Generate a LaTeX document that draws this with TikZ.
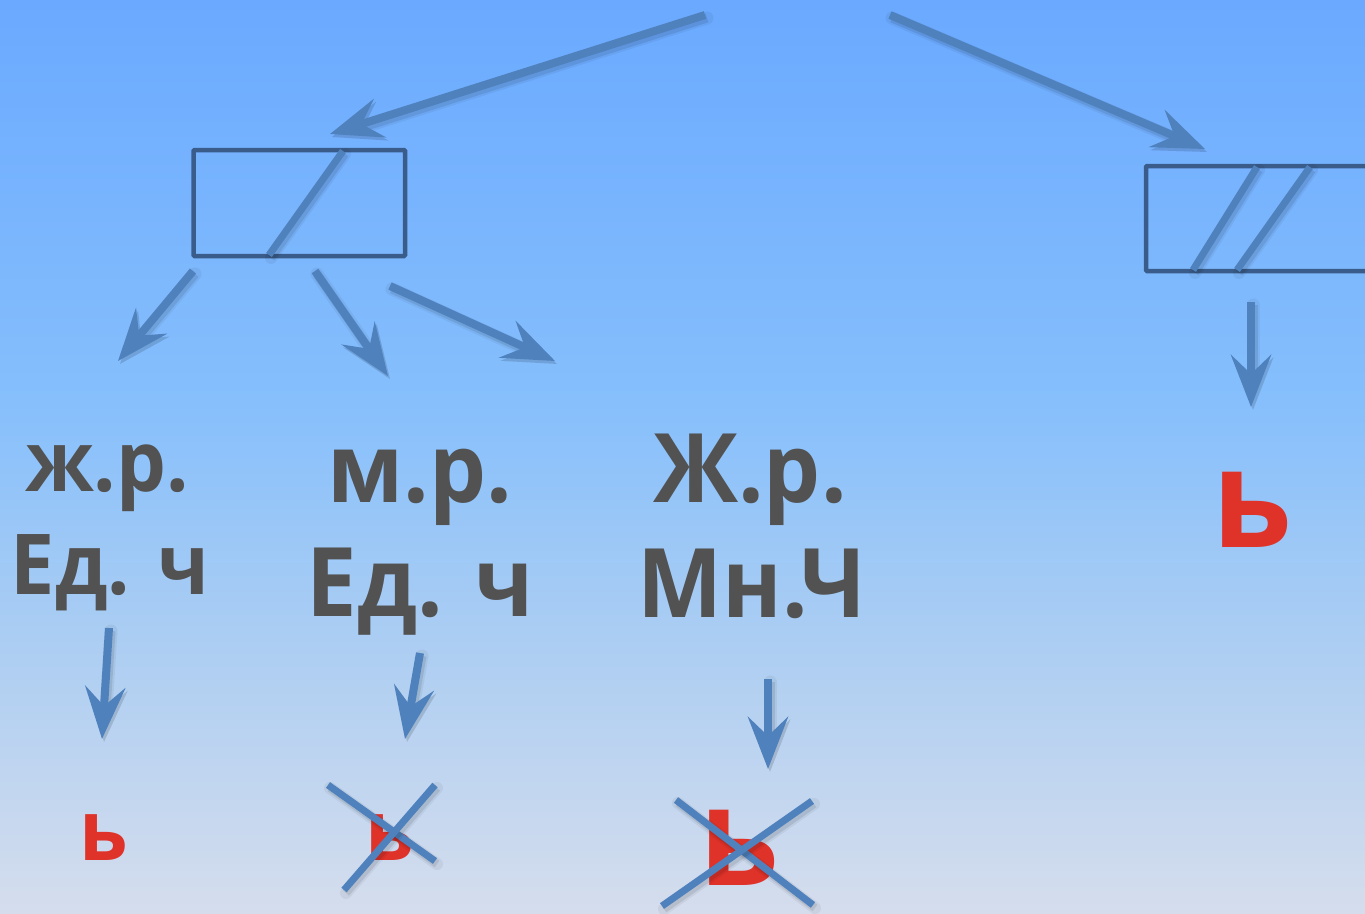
\documentclass[tikz,border=0pt]{standalone}
\usepackage{fontspec}
\setmainfont{Open Sans}[FakeStretch=0.94]
\usetikzlibrary{arrows.meta}
\definecolor{bgtop}{RGB}{106,169,255}
\definecolor{bgmidA}{RGB}{134,191,252}
\definecolor{bgmidB}{RGB}{173,206,242}
\definecolor{bgbot}{RGB}{213,221,237}
\definecolor{arrblue}{RGB}{79,129,189}
\definecolor{boxblue}{RGB}{58,92,138}
\definecolor{txtgray}{RGB}{82,82,82}
\definecolor{softred}{RGB}{223,50,41}
\pgfdeclareverticalshading{bgshade}{100bp}{color(0bp)=(bgbot); color(25bp)=(bgbot); color(39.4bp)=(bgmidB); color(53.1bp)=(bgmidA); color(75bp)=(bgtop); color(100bp)=(bgtop)}
\newcommand\fsmall{\fontsize{84}{84}\selectfont\bfseries}
\newcommand\fbig{\fontsize{96}{96}\selectfont\bfseries}
\newcommand\fsoft{\fontsize{84}{84}\selectfont\bfseries}
\newcommand\fsoftbig{\fontsize{138}{138}\selectfont\bfseries}
\begin{document}
\begin{tikzpicture}[x=1pt,y=-1pt,
  shad/.style={
    preaction={draw=black, draw opacity=0.05, fill opacity=0.05, line width=#1+5pt, line cap=round, transform canvas={shift={(2pt,-3pt)}}},
    preaction={draw=black, draw opacity=0.09, fill opacity=0.09, line width=#1+1pt, transform canvas={shift={(2pt,-3pt)}}}},
  arr/.style={shad=8pt, draw=arrblue, line width=8pt, -{Stealth[length=52pt,width=40pt,inset=19pt]}},
  slash/.style={shad=7pt, draw=arrblue, line width=7pt},
  cross/.style={shad=7pt, draw=arrblue, line width=7pt},
  frame/.style={draw=boxblue, line width=4.5pt, rounded corners=1pt, inner sep=0pt, outer sep=0pt},
  lbl/.style={text=txtgray, inner sep=0pt, anchor=base},
  soft/.style={text=softred, inner sep=0pt, anchor=base}]
\useasboundingbox (0,0) rectangle (1365,913);
\clip (0,0) rectangle (1365,913);
\shade[shading=bgshade] (0,0) rectangle (1365,913);

% frames
\node[frame, minimum width=211.5pt, minimum height=106pt] (box1) at (299.25,203) {};
\node[frame, minimum width=260pt, minimum height=105pt] (box2) at (1276,218.5) {};
\draw[slash] (343,151) -- (269,255);
\draw[slash] (1257,167) -- (1193,270);
\draw[slash] (1310,167) -- (1237,270);

% labels
\node[lbl, font=\fsmall] (l1a) at (107,491) {ж.р.};
\node[lbl, font=\fsmall] (l1b) at (110,594) {Ед. ч};
\node[lbl, font=\fbig] (l2a) at (420,502) {м.р.};
\node[lbl, font=\fbig] (l2b) at (420,616) {Ед. ч};
\node[lbl, font=\fbig] (l3a) at (750,502) {Ж.р.};
\node[lbl, font=\fbig] (l3b) at (752,617) {Мн.Ч};

% soft signs
\node[soft, font=\fsoftbig] (s4) at (1252,547) {ь};
\node[soft, font=\fsoft] (s1) at (104,860) {ь};
\node[soft, font=\fsoft] (s2) at (390,860) {ь};
\node[soft, font=\fsoftbig] (s3) at (739,885) {ь};

% crosses
\draw[cross] (328,785) -- (435,861);
\draw[cross] (435,785) -- (344,890);
\draw[cross] (676,800) -- (813,905);
\draw[cross] (812,801) -- (662,906);

% arrow end points
\coordinate (a1s) at (705,15);   \coordinate (a1e) at (330,134);
\coordinate (a2s) at (890,15);   \coordinate (a2e) at (1205,149);
\coordinate (a3s) at (1251,302); \coordinate (a3e) at (1251,407);
\coordinate (a4s) at (109,628);  \coordinate (a4e) at (102,739);
\coordinate (a5s) at (420,653);  \coordinate (a5e) at (405,739);
\coordinate (a6s) at (768,679);  \coordinate (a6e) at (768,769);
\coordinate (a7s) at (193,271);  \coordinate (a7e) at (118,361);
\coordinate (a8s) at (315,271);  \coordinate (a8e) at (388,376);
\coordinate (a9s) at (390,286);  \coordinate (a9e) at (555,361);

\foreach \i in {1,...,9} {\draw[arr] (a\i s) -- (a\i e);}
\end{tikzpicture}
\end{document}
